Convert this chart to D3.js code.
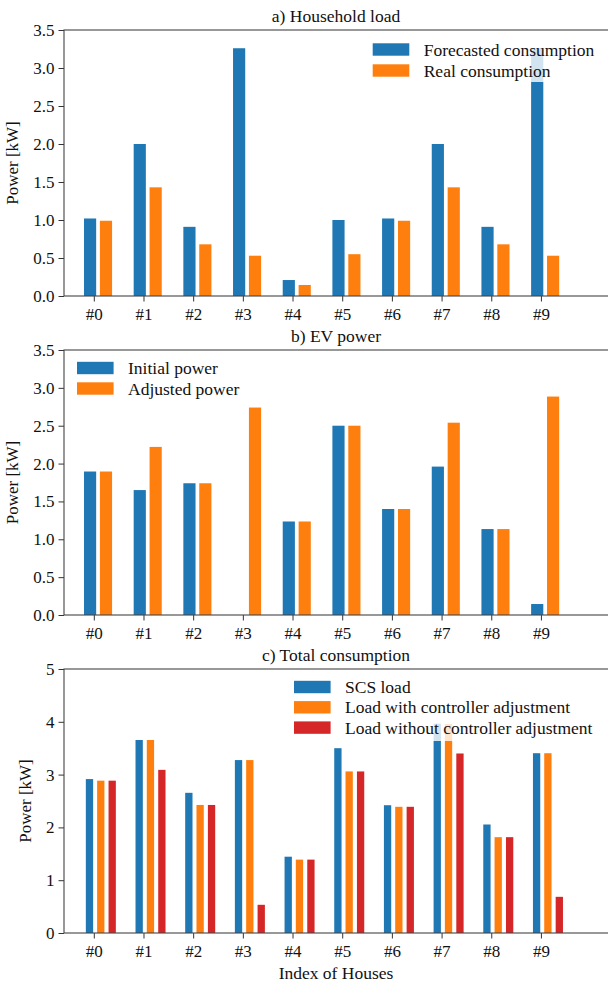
<!DOCTYPE html>
<html>
<head>
<meta charset="utf-8">
<title>Household, EV and total consumption</title>
<script src="https://cdn.jsdelivr.net/npm/d3@7"></script>
<style>
  body { margin: 0; background: #fff; }
  svg text { font-family: "Liberation Serif", "Times New Roman", serif; fill: #111; }
</style>
</head>
<body>
<script>
// data
var houses = ["#0", "#1", "#2", "#3", "#4", "#5", "#6", "#7", "#8", "#9"];

var forecasted = [1.02, 2.0, 0.91, 3.26, 0.21, 1.0, 1.02, 2.0, 0.91, 3.26];
var realCons = [0.99, 1.43, 0.68, 0.53, 0.145, 0.55, 0.99, 1.43, 0.68, 0.53];

var initialPower = [1.895, 1.65, 1.74, 0, 1.235, 2.5, 1.4, 1.96, 1.135, 0.145];
var adjustedPower = [1.895, 2.22, 1.74, 2.74, 1.235, 2.5, 1.4, 2.54, 1.135, 2.885];

var scsLoad = [2.915, 3.655, 2.655, 3.275, 1.445, 3.5, 2.42, 3.965, 2.055, 3.405];
var withCtrl = [2.885, 3.655, 2.425, 3.275, 1.39, 3.06, 2.39, 3.96, 1.815, 3.405];
var withoutCtrl = [2.885, 3.09, 2.425, 0.534, 1.39, 3.06, 2.39, 3.4, 1.815, 0.685];

var ticksA = [0, 0.5, 1, 1.5, 2, 2.5, 3, 3.5];
var ticksC = [0, 1, 2, 3, 4, 5];

var blue = "#1f77b4", orange = "#ff7f0e", red = "#d62728";
var w = 608, h = 982;
var left = 64, right = 608;

var svg = d3.select("body").append("svg")
  .attr("width", w)
  .attr("height", h);

var x = d3.scaleLinear().domain([-0.6, 10.35]).range([left, right]);

function drawPanel(p) {
  var y = d3.scaleLinear().domain([0, p.ymax]).range([p.bottom, p.top]);
  var g = svg.append("g");

  // bars
  p.series.forEach(function(s) {
    g.selectAll(null)
      .data(s.values)
      .enter().append("rect")
      .attr("x", function(d, i) { return x(i + s.offset - p.barWidth / 2); })
      .attr("width", x(p.barWidth) - x(0))
      .attr("y", function(d) { return y(d); })
      .attr("height", function(d) { return y(0) - y(d); })
      .attr("fill", s.color);
  });

  // axes
  var yAxis = d3.axisLeft(y).tickValues(p.ticks).tickFormat(p.fmt).tickSize(5.5).tickPadding(4);
  var gy = g.append("g").attr("transform", "translate(" + left + ",0)").call(yAxis);
  var xAxis = d3.axisBottom(x).tickValues(d3.range(houses.length))
    .tickFormat(function(i) { return houses[i]; }).tickSize(5.5).tickPadding(6);
  var gx = g.append("g").attr("transform", "translate(0," + p.bottom + ")").call(xAxis);
  [gx, gy].forEach(function(a) {
    a.select(".domain").remove();
    a.selectAll("line").attr("stroke", "#333");
    a.selectAll("text").style("font-size", "17px").attr("fill", "#111");
  });

  // frame
  g.append("rect")
    .attr("x", left).attr("y", p.top)
    .attr("width", right + 1 - left).attr("height", p.bottom - p.top)
    .attr("fill", "none").attr("stroke", "#444").attr("stroke-width", 1.1);

  // title
  g.append("text")
    .attr("x", (left + right) / 2).attr("y", p.top - 8)
    .attr("text-anchor", "middle").style("font-size", "17.5px")
    .text(p.title);

  // y label
  g.append("text")
    .attr("transform", "translate(" + p.ylabelX + "," + (p.top + p.bottom) / 2 + ") rotate(-90)")
    .attr("text-anchor", "middle").style("font-size", "17px")
    .text("Power [kW]");

  // legend
  var L = p.legend;
  g.append("rect")
    .attr("x", L.box[0]).attr("y", L.box[1])
    .attr("width", L.box[2]).attr("height", L.box[3])
    .attr("fill", "#fff").attr("fill-opacity", 0.8);
  p.series.forEach(function(s, i) {
    var cy = L.y + i * L.step;
    g.append("rect")
      .attr("x", L.x).attr("y", cy - 6.2)
      .attr("width", 36.6).attr("height", 12.4)
      .attr("fill", s.color);
    g.append("text")
      .attr("x", L.x + 51).attr("y", cy + 6)
      .style("font-size", "17.5px")
      .text(s.name);
  });
}

drawPanel({
  title: "a) Household load", top: 30, bottom: 296, ymax: 3.5,
  ticks: ticksA, fmt: d3.format(".1f"), ylabelX: 18, barWidth: 0.245,
  series: [
    { name: "Forecasted consumption", values: forecasted, color: blue, offset: -0.075 },
    { name: "Real consumption", values: realCons, color: orange, offset: 0.245 }
  ],
  legend: { x: 372.7, y: 49.5, step: 21, box: [364, 37, 242, 45] }
});

drawPanel({
  title: "b) EV power", top: 350, bottom: 615, ymax: 3.5,
  ticks: ticksA, fmt: d3.format(".1f"), ylabelX: 18, barWidth: 0.245,
  series: [
    { name: "Initial power", values: initialPower, color: blue, offset: -0.075 },
    { name: "Adjusted power", values: adjustedPower, color: orange, offset: 0.245 }
  ],
  legend: { x: 77, y: 368, step: 20.5, box: [69, 356, 200, 45] }
});

drawPanel({
  title: "c) Total consumption", top: 669, bottom: 933, ymax: 5,
  ticks: ticksC, fmt: d3.format("d"), ylabelX: 31, barWidth: 0.147,
  series: [
    { name: "SCS load", values: scsLoad, color: blue, offset: -0.087 },
    { name: "Load with controller adjustment", values: withCtrl, color: orange, offset: 0.14 },
    { name: "Load without controller adjustment", values: withoutCtrl, color: red, offset: 0.37 }
  ],
  legend: { x: 294, y: 687, step: 20.3, box: [286, 675, 320, 66] }
});

// x label
svg.append("text")
  .attr("x", (left + right) / 2).attr("y", 979)
  .attr("text-anchor", "middle").style("font-size", "17.5px")
  .text("Index of Houses");
</script>
</body>
</html>
